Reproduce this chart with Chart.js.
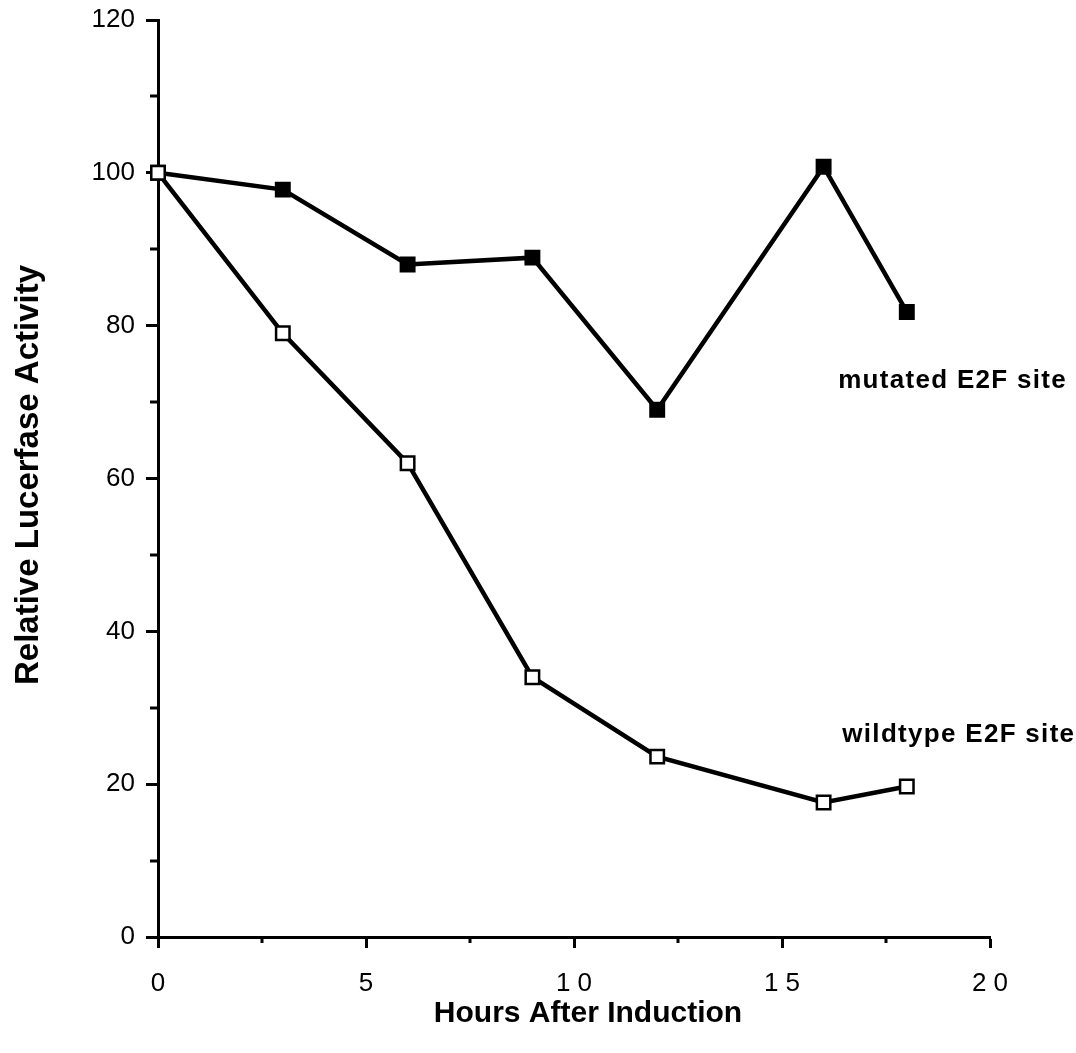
<!DOCTYPE html>
<html>
<head>
<meta charset="utf-8">
<script src="https://cdn.jsdelivr.net/npm/chart.js@4"></script>
<style>
  html, body { margin: 0; padding: 0; background: #fff; }
  canvas { display: block; }
</style>
</head>
<body>
<canvas id="lineChart" width="1076" height="1053"></canvas>
<script>
// data
const hours = [0, 3, 6, 9, 12, 16, 18];
const wildtype = [100, 79, 62, 34, 23.6, 17.6, 19.7];
const mutated = [100, 97.8, 88, 88.9, 69, 100.8, 81.8];

const xMinorTicks = [2.5, 7.5, 12.5, 17.5];
const yMinorTicks = [10, 30, 50, 70, 90, 110];

const xTitle = 'Hours After Induction';
const yTitle = 'Relative Lucerfase Activity';

// series labels: [text, x value, y value (baseline)]
const seriesLabels = [
    ['mutated E2F site', 16.35, 71.9],
    ['wildtype E2F site', 16.45, 25.5]
];

const toPoints = (xs, ys) => xs.map((x, i) => ({ x: x, y: ys[i] }));

const fontFamily = '"Liberation Sans", Arial, Helvetica, sans-serif';

// minor ticks, axis titles and the in-plot labels
const extras = {
    id: 'extras',
    afterDatasetsDraw(chart) {
        const ctx = chart.ctx;
        const xs = chart.scales.x;
        const ys = chart.scales.y;
        const area = chart.chartArea;
        ctx.save();
        ctx.strokeStyle = '#000';
        ctx.lineWidth = 3;
        xMinorTicks.forEach(v => {
            const px = Math.round(xs.getPixelForValue(v));
            ctx.beginPath();
            ctx.moveTo(px, area.bottom);
            ctx.lineTo(px, area.bottom + 6);
            ctx.stroke();
        });
        yMinorTicks.forEach(v => {
            const py = Math.round(ys.getPixelForValue(v));
            ctx.beginPath();
            ctx.moveTo(area.left, py);
            ctx.lineTo(area.left - 8, py);
            ctx.stroke();
        });

        ctx.fillStyle = '#000';
        ctx.textBaseline = 'alphabetic';

        // x title
        ctx.font = 'bold 30px ' + fontFamily;
        ctx.textAlign = 'center';
        ctx.fillText(xTitle, 588, 1022);

        // y title
        ctx.save();
        ctx.translate(38, 475);
        ctx.rotate(-Math.PI / 2);
        ctx.font = 'bold 33px ' + fontFamily;
        ctx.fillText(yTitle, 0, 0);
        ctx.restore();

        // series labels
        ctx.font = 'bold 26px ' + fontFamily;
        ctx.textAlign = 'left';
        ctx.letterSpacing = '1.3px';
        seriesLabels.forEach(l => {
            ctx.fillText(l[0], xs.getPixelForValue(l[1]), ys.getPixelForValue(l[2]));
        });
        ctx.restore();
    }
};

const ctxLine = document.getElementById('lineChart').getContext('2d');
new Chart(ctxLine, {
    type: 'line',
    data: {
        datasets: [{
            label: 'wildtype E2F site',
            data: toPoints(hours, wildtype),
            borderColor: '#000',
            borderWidth: 4.5,
            pointStyle: 'rect',
            pointRadius: 9.5,
            pointBackgroundColor: '#fff',
            pointBorderColor: '#000',
            pointBorderWidth: 2.5,
            tension: 0,
            clip: false
        }, {
            label: 'mutated E2F site',
            data: toPoints(hours, mutated),
            borderColor: '#000',
            borderWidth: 4.5,
            pointStyle: 'rect',
            pointRadius: 9.5,
            pointBackgroundColor: '#000',
            pointBorderColor: '#000',
            pointBorderWidth: 2.5,
            tension: 0,
            clip: false
        }]
    },
    options: {
        responsive: false,
        animation: false,
        devicePixelRatio: 1,
        layout: { padding: { left: 0, top: 20, right: 86, bottom: 0 } },
        plugins: {
            legend: { display: false },
            tooltip: { enabled: false }
        },
        scales: {
            x: {
                type: 'linear',
                min: 0,
                max: 20,
                afterFit: s => {
                    s.height = 116;
                    s.paddingLeft = 0;
                    s.paddingRight = 0;
                },
                border: { color: '#000', width: 3 },
                grid: {
                    drawOnChartArea: false,
                    tickLength: 11,
                    tickWidth: 3,
                    tickColor: '#000'
                },
                ticks: {
                    stepSize: 5,
                    autoSkip: false,
                    maxRotation: 0,
                    padding: 20,
                    color: '#000',
                    font: { family: fontFamily, size: 26 },
                    callback: v => String(v).split('').join(' ')
                }
            },
            y: {
                min: 0,
                max: 120,
                afterFit: s => {
                    s.width = 158;
                    s.paddingTop = 0;
                    s.paddingBottom = 0;
                },
                border: { color: '#000', width: 3 },
                grid: {
                    drawOnChartArea: false,
                    tickLength: 12,
                    tickWidth: 3,
                    tickColor: '#000'
                },
                ticks: {
                    stepSize: 20,
                    padding: 11,
                    color: '#000',
                    font: { family: fontFamily, size: 26 }
                }
            }
        }
    },
    plugins: [extras]
});
</script>
</body>
</html>
